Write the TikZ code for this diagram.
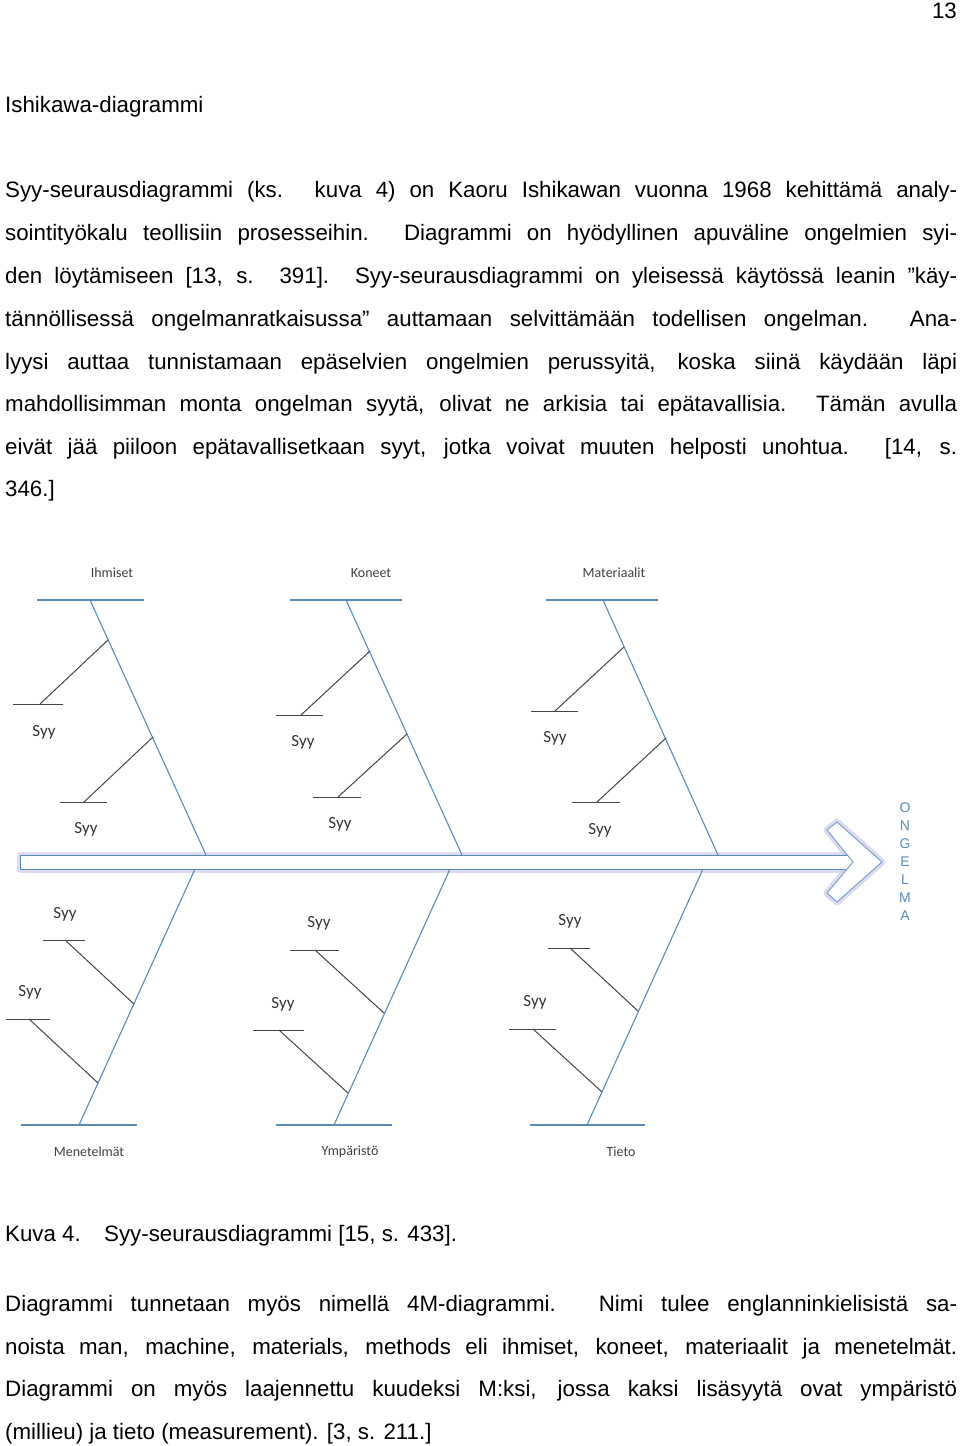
\documentclass[tikz,border=0pt]{standalone}
\usepackage{fontspec}
\setmainfont{Liberation Sans}
\newfontfamily\carlitofont{Carlito}
\begin{document}
\begin{tikzpicture}[x=1pt,y=-1pt,
  bone/.style={draw=bonec,line width=1.1pt},
  sub/.style={draw=subc,line width=1pt},
  txt/.style={anchor=base west,inner sep=0pt,font=\fontsize{22.3}{26}\selectfont},
  lab/.style={inner sep=0pt,font=\carlitofont\fontsize{14}{16}\selectfont,text=black!75},
  syy/.style={inner sep=0pt,font=\carlitofont\fontsize{17}{19}\selectfont,text=black!80},
  let/.style={inner sep=0pt,font=\fontsize{14}{16}\selectfont,text=bonec}]
\definecolor{bonec}{RGB}{90,140,185}
\definecolor{subc}{RGB}{70,70,70}
\definecolor{glow}{RGB}{200,195,230}
\useasboundingbox (0,0) rectangle (960,1446);
\fill[white] (0,0) rectangle (960,1446);
\node[txt,anchor=base east] (pg) at (957,18) {13};
\node[txt] (h) at (5,112) {Ishikawa-diagrammi};
\newcommand\jline[3]{\node[txt] (#1) at (5,#2) {\makebox[952pt][s]{#3}};}
\newcommand\lline[3]{\node[txt] (#1) at (5,#2) {#3};}
\jline{p1}{197}{Syy-seurausdiagrammi (ks. kuva 4) on Kaoru Ishikawan vuonna 1968 kehittämä analy-}
\jline{p2}{240}{sointityökalu teollisiin prosesseihin. Diagrammi on hyödyllinen apuväline ongelmien syi-}
\jline{p3}{283}{den löytämiseen [13, s. 391]. Syy-seurausdiagrammi on yleisessä käytössä leanin ”käy-}
\jline{p4}{326}{tännöllisessä ongelmanratkaisussa” auttamaan selvittämään todellisen ongelman. Ana-}
\jline{p5}{369}{lyysi auttaa tunnistamaan epäselvien ongelmien perussyitä, koska siinä käydään läpi}
\jline{p6}{411}{mahdollisimman monta ongelman syytä, olivat ne arkisia tai epätavallisia. Tämän avulla}
\jline{p7}{454}{eivät jää piiloon epätavallisetkaan syyt, jotka voivat muuten helposti unohtua. [14, s.}
\lline{p8}{496}{346.]}
\lline{c1}{1241}{Kuva 4.}
\node[txt] (c2) at (104,1241) {Syy-seurausdiagrammi [15, s. 433].};
\jline{q1}{1311}{Diagrammi tunnetaan myös nimellä 4M-diagrammi. Nimi tulee englanninkielisistä sa-}
\jline{q2}{1354}{noista man, machine, materials, methods eli ihmiset, koneet, materiaalit ja menetelmät.}
\jline{q3}{1396}{Diagrammi on myös laajennettu kuudeksi M:ksi, jossa kaksi lisäsyytä ovat ympäristö}
\lline{q4}{1439}{(millieu) ja tieto (measurement). [3, s. 211.]}
% arrow
\draw[glow,line width=7pt,opacity=0.6,line join=round] (20,855) rectangle (852,869);
\draw[glow,line width=7pt,opacity=0.6,line join=round] (827,830)--(837,822)--(882,862)--(837,902)--(827,893)--(853,862)--cycle;
\draw[bonec,fill=white,line width=1pt] (20,855) rectangle (852,869);
\draw[bonec!80,fill=white,line width=1pt,line join=miter] (827,830)--(837,822)--(882,862)--(837,902)--(827,893)--(853,862)--cycle;
\foreach \c/\y in {O/808,N/826,G/844,E/862,L/880,M/898,A/916}{\node[let] at (905,\y) {\c};}
% main bones
\coordinate (t1a) at (90,600); \coordinate (t1b) at (206,855);
\draw[bone] (37,600) -- (144,600); \draw[bone] (t1a) -- (t1b);
\node[lab] (t1l) at (112,573) {Ihmiset};
\coordinate (t2a) at (346,600); \coordinate (t2b) at (462,855);
\draw[bone] (290,600) -- (402,600); \draw[bone] (t2a) -- (t2b);
\node[lab] (t2l) at (371,573) {Koneet};
\coordinate (t3a) at (603,600); \coordinate (t3b) at (718,855);
\draw[bone] (546,600) -- (658,600); \draw[bone] (t3a) -- (t3b);
\node[lab] (t3l) at (614,573) {Materiaalit};
\coordinate (b1a) at (195,869); \coordinate (b1b) at (79,1125);
\draw[bone] (21,1125) -- (137,1125); \draw[bone] (b1a) -- (b1b);
\node[lab] (b1l) at (89,1152) {Menetelmät};
\coordinate (b2a) at (450,869); \coordinate (b2b) at (334,1125);
\draw[bone] (276,1125) -- (392,1125); \draw[bone] (b2a) -- (b2b);
\node[lab] (b2l) at (350,1152) {Ympäristö};
\coordinate (b3a) at (703,869); \coordinate (b3b) at (587,1125);
\draw[bone] (530,1125) -- (645,1125); \draw[bone] (b3a) -- (b3b);
\node[lab] (b3l) at (621,1152) {Tieto};
% sub bones
\foreach \n/\sx/\sy/\ex/\ey/\la/\lb/\tx/\ty in {
  s1/108/640/40/704/13/63/44/732,
  s2/153/737/84/802/60/107/86/829,
  s3/370/651/301/715/276/323/303/742,
  s4/407/734/338/797/313/361/340/824,
  s5/624/647/555/711/531/578/555/738,
  s6/666/738/597/802/572/620/600/830,
  s7/134/1004/65/940/43/85/65/914,
  s8/98/1083/29/1019/6/50/30/992,
  s9/384/1013/315/950/290/339/319/923,
  s10/348/1093/279/1030/253/304/283/1004,
  s11/638/1011/570/948/548/590/570/921,
  s12/602/1092/533/1029/509/556/535/1002}{
  \coordinate (\n a) at (\sx,\sy); \coordinate (\n b) at (\ex,\ey);
  \draw[sub] (\n a) -- (\n b);
  \draw[sub] (\la,\ey) -- (\lb,\ey);
  \node[syy] (\n l) at (\tx,\ty) {Syy};}
\end{tikzpicture}
\end{document}
